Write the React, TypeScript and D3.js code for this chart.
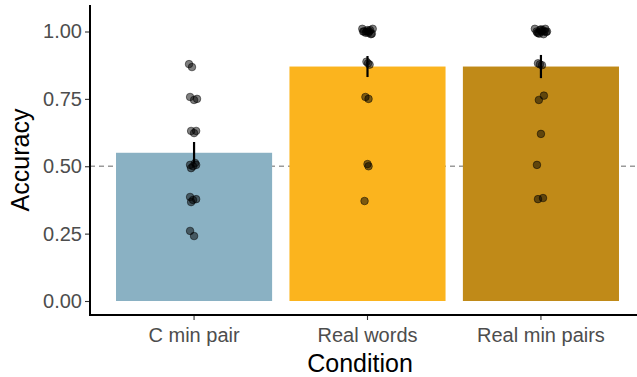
import React, { useEffect, useRef } from "react";
import * as d3 from "d3";

const conditions = ["C min pair", "Real words", "Real min pairs"];
const barColors = ["#8AB1C3", "#FBB41E", "#C08A18"];
const meanAccuracy = [0.55, 0.87, 0.87];
const seAccuracy = [0.04, 0.039, 0.043];
const yTicks = [0, 0.25, 0.5, 0.75, 1.0];
const chanceLevel = 0.5;

// individual participants: [accuracy, horizontal jitter in category units]
const cMinPairPoints = [
  [0.879, -0.029], [0.868, -0.012], [0.757, -0.023], [0.746, 0], [0.75, 0.017],
  [0.631, -0.017], [0.631, 0.012], [0.623, 0], [0.505, -0.023], [0.5, -0.006],
  [0.505, 0.012], [0.493, -0.017], [0.512, 0.006], [0.386, -0.023], [0.375, -0.006],
  [0.378, 0.012], [0.367, -0.017], [0.26, -0.023], [0.241, 0]
];
const realWordsPoints = [
  [1.01, -0.03], [1.0, -0.02], [0.995, -0.01], [1.005, 0], [1.0, 0.01],
  [0.99, 0.02], [1.01, 0.03], [1.0, -0.025], [0.995, 0.005], [1.005, 0.015],
  [1.0, -0.005], [0.992, 0.025], [0.888, -0.006], [0.877, 0.012], [0.882, 0.003],
  [0.757, -0.012], [0.75, 0.006], [0.508, 0], [0.5, 0.006], [0.371, -0.017]
];
const realMinPairsPoints = [
  [1.01, -0.035], [1.0, -0.025], [0.995, -0.015], [1.005, -0.005], [1.0, 0.005],
  [0.99, 0.015], [1.01, 0.025], [1.0, 0.035], [0.995, -0.02], [1.005, 0.01],
  [1.0, 0.02], [0.992, -0.01], [1.008, 0], [0.998, 0.03], [0.882, -0.017],
  [0.875, 0.006], [0.878, -0.006], [0.762, 0.017], [0.746, -0.012], [0.62, 0],
  [0.505, -0.023], [0.378, -0.017], [0.382, 0.012]
];
const pointSets = [cMinPairPoints, realWordsPoints, realMinPairsPoints];

export default function App() {
  const chartRef = useRef(null);
  const width = 637;
  const height = 377;

  useEffect(() => {
    const svg = d3.select(chartRef.current);
    const font = "'Liberation Sans', Arial, sans-serif";
    const panel = { left: 90, right: 645, top: 5, bottom: 315 };

    const x = d3
      .scaleBand()
      .domain(conditions)
      .range([panel.left, panel.right])
      .paddingInner(0.1)
      .paddingOuter(0.15);

    const y = d3.scaleLinear().domain([0, 1]).range([301, 31.5]);

    // chance line
    svg
      .append("line")
      .attr("x1", panel.left)
      .attr("x2", panel.right)
      .attr("y1", y(chanceLevel))
      .attr("y2", y(chanceLevel))
      .attr("stroke", "#9a9a9a")
      .attr("stroke-width", 1.3)
      .attr("stroke-dasharray", "5,4");

    // bars
    svg
      .append("g")
      .selectAll("rect")
      .data(conditions)
      .join("rect")
      .attr("x", d => x(d))
      .attr("width", x.bandwidth())
      .attr("y", (d, i) => y(meanAccuracy[i]))
      .attr("height", (d, i) => y(0) - y(meanAccuracy[i]))
      .attr("fill", (d, i) => barColors[i]);

    // participant points
    svg
      .append("g")
      .selectAll("g")
      .data(conditions)
      .join("g")
      .selectAll("circle")
      .data((d, i) => pointSets[i].map(p => ({ cond: d, acc: p[0], jit: p[1] })))
      .join("circle")
      .attr("cx", d => x(d.cond) + x.bandwidth() / 2 + d.jit * x.step())
      .attr("cy", d => y(d.acc))
      .attr("r", 3.8)
      .attr("fill", "#000")
      .attr("fill-opacity", 0.5)
      .attr("stroke", "#000")
      .attr("stroke-opacity", 0.6)
      .attr("stroke-width", 0.8);

    // error bars
    svg
      .append("g")
      .selectAll("line")
      .data(conditions)
      .join("line")
      .attr("x1", d => x(d) + x.bandwidth() / 2)
      .attr("x2", d => x(d) + x.bandwidth() / 2)
      .attr("y1", (d, i) => y(meanAccuracy[i] - seAccuracy[i]))
      .attr("y2", (d, i) => y(meanAccuracy[i] + seAccuracy[i]))
      .attr("stroke", "#000")
      .attr("stroke-width", 2.2);

    // y axis
    const yAxis = g =>
      g
        .attr("transform", `translate(${panel.left},0)`)
        .call(
          d3
            .axisLeft(y)
            .tickValues(yTicks)
            .tickFormat(d3.format(".2f"))
            .tickSize(5)
            .tickPadding(3)
        )
        .call(g => g.select(".domain").remove())
        .call(g => g.selectAll(".tick line").attr("stroke", "#333").attr("stroke-width", 1.1))
        .call(g =>
          g
            .selectAll(".tick text")
            .attr("fill", "#4D4D4D")
            .style("font-size", "20px")
            .style("font-family", font)
        );
    svg.append("g").call(yAxis);

    // x axis
    const xAxis = g =>
      g
        .attr("transform", `translate(0,${panel.bottom})`)
        .call(d3.axisBottom(x).tickSize(5).tickPadding(8))
        .call(g => g.select(".domain").remove())
        .call(g => g.selectAll(".tick line").attr("stroke", "#333").attr("stroke-width", 1.1))
        .call(g =>
          g
            .selectAll(".tick text")
            .attr("fill", "#4D4D4D")
            .style("font-size", "20px")
            .style("font-family", font)
        );
    svg.append("g").call(xAxis);

    // axis lines
    svg
      .append("path")
      .attr("d", `M${panel.left},${panel.top}V${panel.bottom}H${panel.right}`)
      .attr("fill", "none")
      .attr("stroke", "#000")
      .attr("stroke-width", 2);

    // titles
    svg
      .append("text")
      .attr("x", (panel.left + 630) / 2)
      .attr("y", 372)
      .attr("text-anchor", "middle")
      .style("font-size", "25px")
      .style("font-family", font)
      .text("Condition");

    svg
      .append("text")
      .attr("transform", `translate(29,${(panel.top + panel.bottom) / 2}) rotate(-90)`)
      .attr("text-anchor", "middle")
      .style("font-size", "25px")
      .style("font-family", font)
      .text("Accuracy");

    return () => {
      svg.html("");
    };
  }, []);

  return (
    <svg
      ref={chartRef}
      width={width}
      height={height}
      style={{ position: "absolute", left: 0, top: 0, background: "#fff" }}
    />
  );
}
